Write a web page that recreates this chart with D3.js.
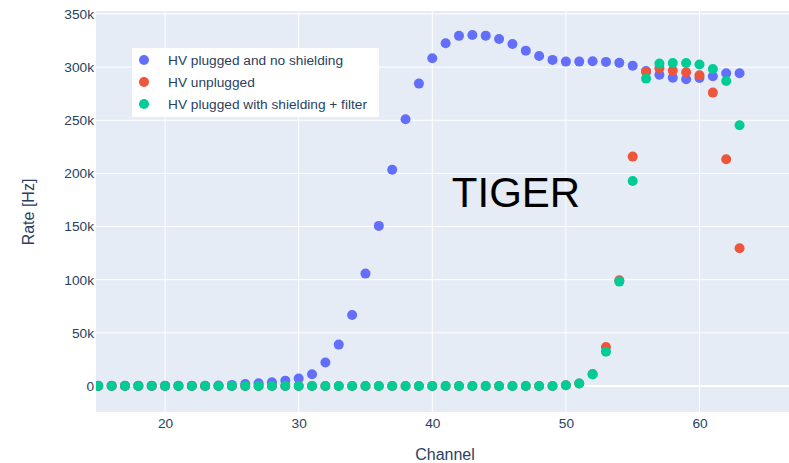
<!DOCTYPE html>
<html>
<head>
<meta charset="utf-8">
<script src="https://cdn.jsdelivr.net/npm/d3@7"></script>
<style>
  html, body { margin: 0; padding: 0; background: #fff; }
  svg { display: block; }
  text { font-family: "Liberation Sans", Arial, sans-serif; }
</style>
</head>
<body>
<svg id="chart" width="789" height="463"></svg>
<script>
// Channel numbers shared by all three runs
const channels = d3.range(15, 64);

// Rate [Hz] per channel, HV plugged and no shielding
const ratePluggedNoShield = [
  300, 300, 300, 300, 300, 300, 300, 300, 300, 500, 1000,       // 15-25
  1900, 2500, 3500, 5000, 7000, 11000, 22000, 38900, 66800,     // 26-34
  105700, 150600, 203500, 251000, 284500, 308400, 322500,       // 35-41
  329400, 330300, 329600, 326500, 321800, 315500, 310500,       // 42-48
  306800, 305200, 305200, 305500, 304900, 304000, 301400,       // 49-55
  296400, 292900, 290100, 288600, 289800, 291400, 294200, 294200 // 56-63
];

// Rate [Hz] per channel, HV unplugged
const rateUnplugged = [
  0, 0, 0, 0, 0, 0, 0, 0, 0, 0, 0,                              // 15-25
  0, 0, 0, 0, 0, 0, 0, 0, 0,                                    // 26-34
  0, 0, 0, 0, 0, 0, 0,                                          // 35-41
  0, 0, 0, 0, 0, 0, 0,                                          // 42-48
  0, 700, 2300, 11200, 36700, 99400, 215800,                    // 49-55
  295500, 299000, 296700, 295200, 292400, 276000, 213300, 129500 // 56-63
];

// Rate [Hz] per channel, HV plugged with shielding + filter
const ratePluggedShieldFilter = [
  0, 0, 0, 0, 0, 0, 0, 0, 0, 0, 0,                              // 15-25
  0, 0, 0, 0, 0, 0, 0, 0, 0,                                    // 26-34
  0, 0, 0, 0, 0, 0, 0,                                          // 35-41
  0, 0, 0, 0, 0, 0, 0,                                          // 42-48
  0, 600, 2300, 10700, 32200, 98200, 192800,                    // 49-55
  289200, 303300, 303900, 303900, 302400, 298300, 287000, 245300 // 56-63
];

const seriesNames = [
  "HV plugged and no shielding",
  "HV unplugged",
  "HV plugged with shielding + filter"
];
const seriesColors = ["#636efa", "#EF553B", "#00cc96"];
const seriesValues = [ratePluggedNoShield, rateUnplugged, ratePluggedShieldFilter];

const xTicks = [20, 30, 40, 50, 60];
const yTicks = [0, 50000, 100000, 150000, 200000, 250000, 300000, 350000];
const xTitle = "Channel";
const yTitle = "Rate [Hz]";
const annotationText = "TIGER";

// ---- layout ----
const svg = d3.select("#chart");
const plot = { left: 96, top: 11, right: 789, bottom: 412 };

const x = d3.scaleLinear().domain([14.83, 66.7]).range([plot.left, plot.right]);
const y = d3.scaleLinear().domain([-24500, 352800]).range([plot.bottom, plot.top]);

const textColor = "#2a3f5f";
const tickFont = "13.7px";
const titleFont = "16px";

// plot background
svg.append("rect")
  .attr("x", plot.left).attr("y", plot.top)
  .attr("width", plot.right - plot.left).attr("height", plot.bottom - plot.top)
  .attr("fill", "#e5ecf6");

// gridlines
const grid = svg.append("g");
grid.selectAll("line.vx").data(xTicks).join("line")
  .attr("x1", d => x(d)).attr("x2", d => x(d))
  .attr("y1", plot.top).attr("y2", plot.bottom)
  .attr("stroke", "#fff").attr("stroke-width", 1);
grid.selectAll("line.hy").data(yTicks.filter(d => d !== 0)).join("line")
  .attr("x1", plot.left).attr("x2", plot.right)
  .attr("y1", d => y(d)).attr("y2", d => y(d))
  .attr("stroke", "#fff").attr("stroke-width", 1);
// zero line
grid.append("line")
  .attr("x1", plot.left).attr("x2", plot.right)
  .attr("y1", y(0)).attr("y2", y(0))
  .attr("stroke", "#fff").attr("stroke-width", 2);

// axes (labels only)
const fmtK = d => d === 0 ? "0" : d3.format("~s")(d);
const yAxis = d3.axisLeft(y).tickValues(yTicks).tickFormat(fmtK).tickSize(0).tickPadding(2);
const xAxis = d3.axisBottom(x).tickValues(xTicks).tickFormat(d3.format("d")).tickSize(0).tickPadding(6);

const gy = svg.append("g").attr("transform", `translate(${plot.left},0)`).call(yAxis);
const gx = svg.append("g").attr("transform", `translate(0,${plot.bottom})`).call(xAxis);
[gx, gy].forEach(g => {
  g.select(".domain").remove();
  g.selectAll("text")
    .attr("fill", textColor)
    .style("font-size", tickFont)
    .style("font-family", '"Liberation Sans", Arial, sans-serif');
});

// axis titles
svg.append("text")
  .attr("x", 445).attr("y", 460)
  .attr("text-anchor", "middle")
  .attr("fill", textColor)
  .style("font-size", titleFont)
  .text(xTitle);
svg.append("text")
  .attr("transform", "translate(34,212) rotate(-90)")
  .attr("text-anchor", "middle")
  .attr("fill", textColor)
  .style("font-size", titleFont)
  .text(yTitle);

// markers, drawn in trace order so later series sit on top
svg.append("clipPath").attr("id", "plotclip").append("rect")
  .attr("x", plot.left).attr("y", plot.top)
  .attr("width", plot.right - plot.left).attr("height", plot.bottom - plot.top);
const marks = svg.append("g").attr("clip-path", "url(#plotclip)");
seriesValues.forEach((vals, i) => {
  marks.append("g")
    .selectAll("circle")
    .data(channels.map((c, k) => ({ c, v: vals[k] })))
    .join("circle")
    .attr("cx", d => x(d.c))
    .attr("cy", d => y(d.v))
    .attr("r", 5)
    .attr("fill", seriesColors[i]);
});

// annotation
svg.append("text")
  .attr("x", 516).attr("y", 207)
  .attr("text-anchor", "middle")
  .attr("fill", "#000")
  .style("font-size", "42px")
  .text(annotationText);

// legend
const legend = svg.append("g").attr("transform", "translate(132,48)");
legend.append("rect")
  .attr("width", 247).attr("height", 69)
  .attr("fill", "#fff");
seriesNames.forEach((name, i) => {
  const row = legend.append("g").attr("transform", `translate(0,${12 + i * 22})`);
  row.append("circle").attr("cx", 12).attr("cy", 0).attr("r", 5).attr("fill", seriesColors[i]);
  row.append("text")
    .attr("x", 36).attr("y", 0).attr("dy", "0.35em")
    .attr("fill", textColor)
    .style("font-size", tickFont)
    .text(name);
});
</script>
</body>
</html>
